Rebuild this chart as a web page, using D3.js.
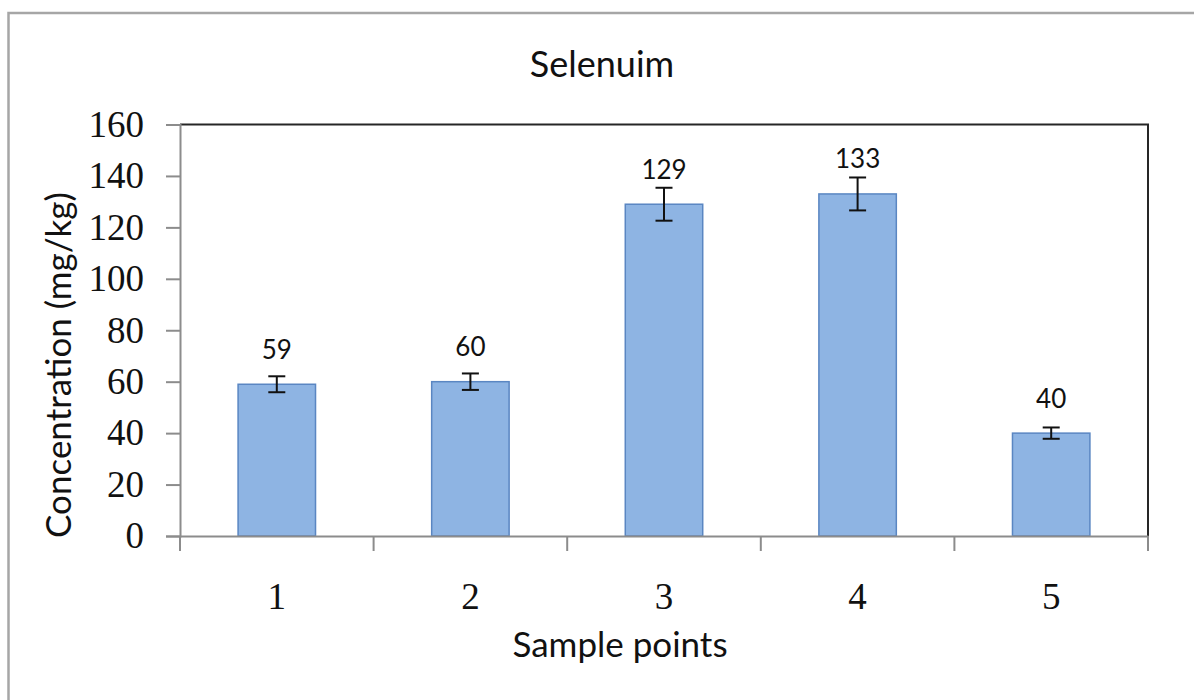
<!DOCTYPE html>
<html><head><meta charset="utf-8">
<script src="https://cdn.jsdelivr.net/npm/d3@7"></script>
<style>body{margin:0;background:#fff;} svg{display:block;}</style>
</head><body>
<script>
const categories = ["1","2","3","4","5"];
const values = [59, 60, 129, 133, 40];
const errors = [3.1, 3.2, 6.4, 6.4, 2.2];
const yTicks = [0,20,40,60,80,100,120,140,160];
const title = "Selenuim";
const xTitle = "Sample points";
const yTitle = "Concentration (mg/kg)";

const W = 1194, H = 700;
const svg = d3.select("body").append("svg").attr("width", W).attr("height", H);

// outer chart border
svg.append("rect").attr("x", 8.5).attr("y", 13).attr("width", 1200).attr("height", 700)
  .attr("fill", "none").attr("stroke", "#a6a6a6").attr("stroke-width", 2.5);

const L = 180, R = 1148, T = 124.5, B = 536;
const x = d3.scaleBand().domain(categories).range([L, R]).paddingInner(0.6).paddingOuter(0.3);
const xb = d3.scaleBand().domain(categories).range([L, R]);
const y = d3.scaleLinear().domain([0, 160]).range([B, T]);

// top & right plot border
svg.append("path").attr("d", `M${L},${T}H${R}V${B}`).attr("fill", "none")
  .attr("stroke", "#262626").attr("stroke-width", 2);

// bars
svg.selectAll(".bar").data(values).join("rect")
  .attr("x", (d,i) => x(categories[i]))
  .attr("y", d => y(d))
  .attr("width", x.bandwidth())
  .attr("height", d => B - y(d))
  .attr("fill", "#8eb4e3").attr("stroke", "#5a86c2").attr("stroke-width", 1.5);

// error bars
const cx = i => xb(categories[i]) + xb.bandwidth()/2;
const eg = svg.append("g").attr("stroke", "#111").attr("stroke-width", 2);
values.forEach((v,i) => {
  const c = cx(i);
  eg.append("line").attr("x1", c).attr("x2", c).attr("y1", y(v+errors[i])).attr("y2", y(v-errors[i]));
  eg.append("line").attr("x1", c-8.5).attr("x2", c+8.5).attr("y1", y(v+errors[i])).attr("y2", y(v+errors[i]));
  eg.append("line").attr("x1", c-8.5).attr("x2", c+8.5).attr("y1", y(v-errors[i])).attr("y2", y(v-errors[i]));
});

// data labels
svg.selectAll(".dl").data(values).join("text")
  .attr("x", (d,i) => cx(i)).attr("y", d => y(d) - 25.5)
  .attr("text-anchor", "middle").attr("font-family", "Lato, 'Open Sans', sans-serif")
  .attr("font-size", 26).attr("fill", "#111").text(d => d);

// y axis
const yAxis = svg.append("g").attr("transform", `translate(${L},0)`)
  .call(d3.axisLeft(y).tickValues(yTicks).tickSize(14).tickPadding(22));
yAxis.select(".domain").attr("stroke", "#8c8c8c").attr("stroke-width", 2);
yAxis.selectAll(".tick line").attr("stroke", "#8c8c8c").attr("stroke-width", 2);
yAxis.selectAll(".tick text").attr("font-family", "'Liberation Serif', serif").attr("font-size", 37)
  .attr("fill", "#111").attr("dy", "0.32em");

// x axis
const xAxis = svg.append("g").attr("transform", `translate(0,${B})`)
  .call(d3.axisBottom(xb).tickSize(0).tickPadding(73));
xAxis.select(".domain").attr("stroke", "#8c8c8c").attr("stroke-width", 2);
xAxis.selectAll(".tick text").attr("font-family", "'Liberation Serif', serif").attr("font-size", 37)
  .attr("fill", "#111").attr("dy", "0");
// category boundary ticks
svg.append("g").selectAll("line").data(d3.range(categories.length + 1)).join("line")
  .attr("x1", i => L + i * xb.step()).attr("x2", i => L + i * xb.step())
  .attr("y1", B).attr("y2", B + 15).attr("stroke", "#8c8c8c").attr("stroke-width", 2);

// titles
svg.append("text").attr("x", 602).attr("y", 77).attr("text-anchor", "middle")
  .attr("font-family", "Lato, 'Open Sans', sans-serif").attr("font-size", 36).attr("fill", "#111").text(title);
svg.append("text").attr("x", 620).attr("y", 657).attr("text-anchor", "middle")
  .attr("font-family", "Lato, 'Open Sans', sans-serif").attr("font-size", 35).attr("fill", "#111").text(xTitle);
svg.append("text").attr("transform", "translate(71,365) rotate(-90)").attr("text-anchor", "middle")
  .attr("font-family", "Lato, 'Open Sans', sans-serif").attr("font-size", 35).attr("fill", "#111").text(yTitle);
</script>
</body></html>
